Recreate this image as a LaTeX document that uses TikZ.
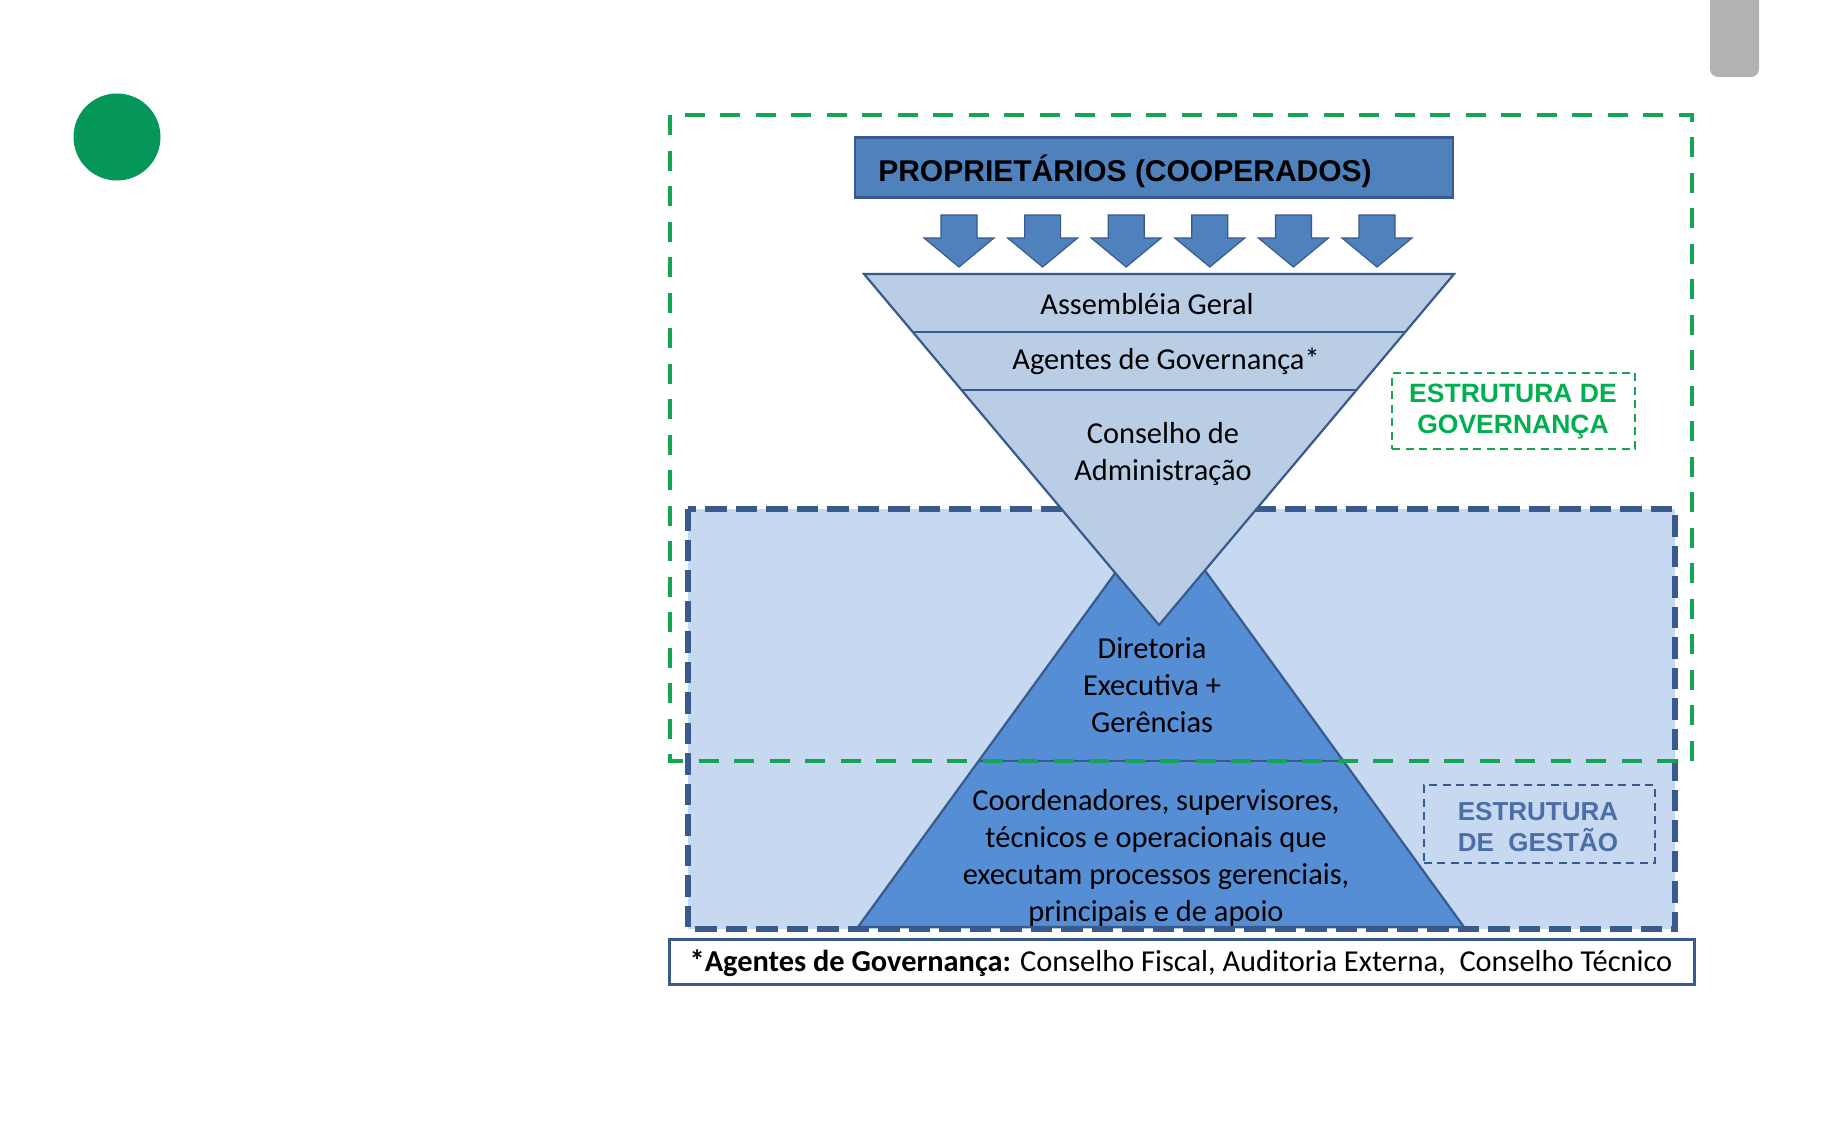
\documentclass[tikz,border=0pt]{standalone}
\usepackage{fontspec}
\setmainfont{Carlito}
\newfontfamily\arialf{Liberation Sans}
\definecolor{dotgreen}{RGB}{5,150,90}
\definecolor{tabgray}{RGB}{178,178,178}
\definecolor{govgreen}{RGB}{20,165,85}
\definecolor{lblgreen}{RGB}{0,176,80}
\definecolor{dkblue}{RGB}{56,90,140}
\definecolor{bgblue}{RGB}{198,217,240}
\definecolor{invblue}{RGB}{185,205,229}
\definecolor{pyrblue}{RGB}{85,142,213}
\definecolor{boxblue}{RGB}{79,129,189}
\definecolor{gestblue}{RGB}{74,110,165}
\begin{document}
\begin{tikzpicture}[x=1pt,y=-1pt,
  bodytxt/.style={font=\fontsize{30.4}{37}\selectfont, align=center, inner sep=0pt, text=black},
  lbltxt/.style={font=\arialf\bfseries\fontsize{26.5}{31}\selectfont, align=center, inner sep=0pt},
  shapeline/.style={draw=dkblue, line width=2.2pt, line join=miter}
]
\useasboundingbox (0,0) rectangle (1824,1140);
\fill[white] (0,0) rectangle (1824,1140);

% decorations
\fill[dotgreen] (117,137) circle (43.5);
\fill[tabgray, rounded corners=8pt] (1710,-10) rectangle (1759,77);

% management area
\fill[bgblue] (688,509) rectangle (1675,929);
\draw[dkblue, line width=6.5pt, dash pattern=on 21.5pt off 9pt] (688,509) rectangle (1675,929);

% upright pyramid
\draw[shapeline, fill=pyrblue] (858,927) -- (1161,510) -- (1464,927) -- cycle;
\draw[dkblue, line width=1.5pt] (978.5,761) -- (1343.5,761);

% inverted triangle
\draw[shapeline, fill=invblue] (864,274) -- (1454,274) -- (1159,625) -- cycle;
\draw[dkblue, line width=1.5pt] (912.7,332) -- (1405.3,332);
\draw[dkblue, line width=1.5pt] (961.5,390) -- (1356.5,390);

% governance dashed frame
\draw[govgreen, line width=4.5pt, dash pattern=on 20pt off 15.5pt] (670,115) rectangle (1692,761);

% owners box
\node[draw=dkblue, line width=2.5pt, fill=boxblue, minimum width=598pt, minimum height=60pt, inner sep=0pt] (prop) at (1154,167.5) {};
\node[font=\arialf\bfseries\fontsize{30}{36}\selectfont, inner sep=0pt] (proptxt) at (1125,171) {PROPRIETÁRIOS (COOPERADOS)};

% arrows
\foreach \i in {0,...,5}{
  \pgfmathsetmacro{\cx}{959+\i*83.6}
  \draw[dkblue, line width=1.2pt, fill=boxblue, line join=miter]
    (\cx-18,215) -- (\cx+18,215) -- (\cx+18,238) -- (\cx+35,238) -- (\cx,267)
    -- (\cx-35,238) -- (\cx-18,238) -- cycle;
}

% texts in the inverted triangle
\node[bodytxt] (ag) at (1147,304) {Assembléia Geral};
\node[bodytxt] (agov) at (1166,361) {Agentes de Governança*};
\node[bodytxt] (cons) at (1163,454) {Conselho de\\Administração};

% texts in the pyramid
\node[bodytxt] (dir) at (1152,685) {Diretoria\\Executiva +\\Gerências};
\node[bodytxt] (coord) at (1156,857.5) {Coordenadores, supervisores,\\técnicos e operacionais que\\executam processos gerenciais,\\principais e de apoio};

% label boxes
\node[draw=govgreen, line width=2pt, dash pattern=on 8pt off 5.5pt, minimum width=243pt, minimum height=76pt, inner sep=0pt] (govbox) at (1513.5,410.5) {};
\node[lbltxt, text=lblgreen] (govlbl) at (1513,411) {ESTRUTURA DE\\GOVERNANÇA};

\node[draw=dkblue, line width=2pt, dash pattern=on 8pt off 5.5pt, minimum width=231pt, minimum height=78pt, inner sep=0pt] (gestbox) at (1539,824) {};
\node[lbltxt, text=gestblue, font=\arialf\bfseries\fontsize{26}{31}\selectfont] (gestlbl) at (1538,827) {ESTRUTURA\\DE\ \ GESTÃO};

% footnote
\node[draw=dkblue, line width=2.5pt, fill=white, minimum width=1025pt, minimum height=45pt, inner sep=0pt] (footbox) at (1182,962) {};
\node[bodytxt] (foot) at (1181,963) {\textbf{*Agentes de Governança:} Conselho Fiscal, Auditoria Externa,\ \ Conselho Técnico};
\end{tikzpicture}
\end{document}
